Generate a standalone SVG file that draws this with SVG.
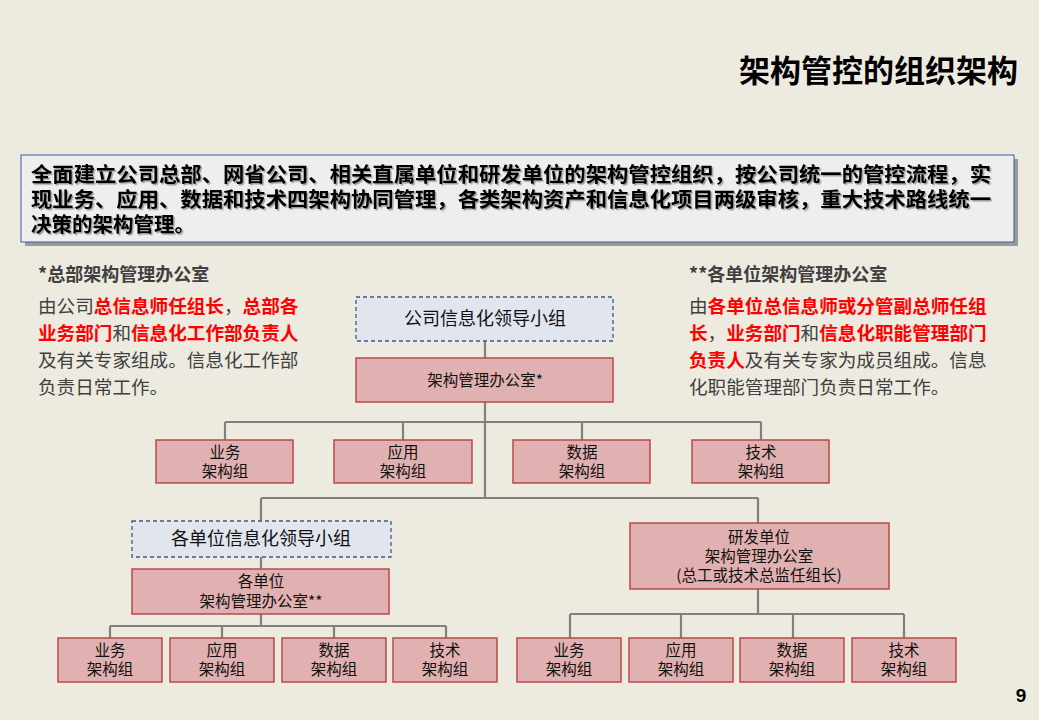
<svg xmlns="http://www.w3.org/2000/svg" width="1039" height="720" viewBox="0 0 1039 720">
<defs>
<style>
.cjk{font-family:"Noto Sans CJK SC","Liberation Sans",sans-serif}
.lead{fill:#E1E5EE;stroke:#3A5A8C;stroke-width:1.3;stroke-dasharray:4 3}
.off{fill:#E0B1B0;stroke:#B94A48;stroke-width:1.5}
.bt{font-family:"Noto Sans CJK SC","Liberation Sans",sans-serif;font-size:15.5px;fill:#111;text-anchor:middle}
.lt{font-family:"Noto Sans CJK SC","Liberation Sans",sans-serif;font-size:18px;fill:#111;text-anchor:middle}
.cn{stroke:#808080;stroke-width:2.2;fill:none}
.g{fill:#404040}
.r{fill:#FF0000;font-weight:bold}
.p{font-family:"Noto Sans CJK SC","Liberation Sans",sans-serif;font-size:18.6px}
</style>
<filter id="ts" x="-5%" y="-20%" width="110%" height="140%">
<feDropShadow dx="1.5" dy="1.5" stdDeviation="0.6" flood-color="#000" flood-opacity="0.35"/>
</filter>
</defs>
<rect x="0" y="0" width="1039" height="720" fill="#EDEAE0"/>

<g id="title">
<text x="1018" y="82" class="cjk" font-size="31" font-weight="bold" fill="#000" text-anchor="end">架构管控的组织架构</text>
</g>

<g id="summary">
<rect x="25" y="159" width="993" height="87" fill="#9A9A9A"/>
<rect x="21" y="155" width="993" height="87" fill="#EEEEEE" stroke="#3A5A9C" stroke-width="1"/>
<g class="cjk" font-size="20.5" font-weight="bold" fill="#000" filter="url(#ts)">
<text x="31" y="182" textLength="960" lengthAdjust="spacingAndGlyphs">全面建立公司总部、网省公司、相关直属单位和研发单位的架构管控组织，按公司统一的管控流程，实</text>
<text x="31" y="207" textLength="960" lengthAdjust="spacingAndGlyphs">现业务、应用、数据和技术四架构协同管理，各类架构资产和信息化项目两级审核，重大技术路线统一</text>
<text x="31" y="232">决策的架构管理。</text>
</g>
</g>

<g id="note-left">
<text x="38" y="281" class="cjk" font-size="18" font-weight="bold" fill="#404040">*总部架构管理办公室</text>
<text x="38" y="313" class="p"><tspan class="g">由公司</tspan><tspan class="r">总信息师任组长</tspan><tspan class="g">，</tspan><tspan class="r">总部各</tspan></text>
<text x="38" y="340" class="p"><tspan class="r">业务部门</tspan><tspan class="g">和</tspan><tspan class="r">信息化工作部负责人</tspan></text>
<text x="38" y="367" class="p g">及有关专家组成。信息化工作部</text>
<text x="38" y="394" class="p g">负责日常工作。</text>
</g>

<g id="note-right">
<text x="689" y="281" class="cjk" font-size="18" font-weight="bold" fill="#404040">**各单位架构管理办公室</text>
<text x="689" y="313" class="p"><tspan class="g">由</tspan><tspan class="r">各单位总信息师或分管副总师任组</tspan></text>
<text x="689" y="340" class="p"><tspan class="r">长</tspan><tspan class="g">，</tspan><tspan class="r">业务部门</tspan><tspan class="g">和</tspan><tspan class="r">信息化职能管理部门</tspan></text>
<text x="689" y="367" class="p"><tspan class="r">负责人</tspan><tspan class="g">及有关专家为成员组成。信息</tspan></text>
<text x="689" y="394" class="p g">化职能管理部门负责日常工作。</text>
</g>

<g id="connectors">
<path class="cn" d="M485 341V358 M485 402V498 M225 422H761 M225 422V440 M403 422V440 M582 422V440 M761 422V440 M261 498H758 M261 498V521 M758 498V523 M261 557V569 M261 614V626 M110 626H446 M110 626V638 M222 626V638 M334 626V638 M446 626V638 M758 589V614 M570 614H904 M570 614V638 M681 614V638 M793 614V638 M904 614V638"/>
</g>

<g id="n-group-lead">
<rect class="lead" x="356" y="297" width="257" height="44"/>
<text class="lt" x="485" y="325">公司信息化领导小组</text>
</g>
<g id="n-hq-office">
<rect class="off" x="356" y="358" width="257" height="44"/>
<text class="bt" x="485" y="386">架构管理办公室*</text>
</g>

<g id="n-hq-biz"><rect class="off" x="156" y="440" width="137" height="43"/><text class="bt" x="225" y="458">业务</text><text class="bt" x="225" y="477">架构组</text></g>
<g id="n-hq-app"><rect class="off" x="334" y="440" width="138" height="43"/><text class="bt" x="403" y="458">应用</text><text class="bt" x="403" y="477">架构组</text></g>
<g id="n-hq-data"><rect class="off" x="513" y="440" width="137" height="43"/><text class="bt" x="582" y="458">数据</text><text class="bt" x="582" y="477">架构组</text></g>
<g id="n-hq-tech"><rect class="off" x="692" y="440" width="137" height="43"/><text class="bt" x="761" y="458">技术</text><text class="bt" x="761" y="477">架构组</text></g>

<g id="n-unit-lead">
<rect class="lead" x="132" y="521" width="259" height="36"/>
<text class="lt" x="261" y="545">各单位信息化领导小组</text>
</g>
<g id="n-unit-office">
<rect class="off" x="132" y="569" width="257" height="45"/>
<text class="bt" x="261" y="587">各单位</text>
<text class="bt" x="261" y="607">架构管理办公室**</text>
</g>

<g id="n-u-biz"><rect class="off" x="58" y="638" width="104" height="44"/><text class="bt" x="110" y="656">业务</text><text class="bt" x="110" y="675">架构组</text></g>
<g id="n-u-app"><rect class="off" x="170" y="638" width="104" height="44"/><text class="bt" x="222" y="656">应用</text><text class="bt" x="222" y="675">架构组</text></g>
<g id="n-u-data"><rect class="off" x="282" y="638" width="104" height="44"/><text class="bt" x="334" y="656">数据</text><text class="bt" x="334" y="675">架构组</text></g>
<g id="n-u-tech"><rect class="off" x="393" y="638" width="104" height="44"/><text class="bt" x="445" y="656">技术</text><text class="bt" x="445" y="675">架构组</text></g>

<g id="n-rd-office">
<rect class="off" x="630" y="523" width="259" height="66"/>
<text class="bt" x="759" y="543">研发单位</text>
<text class="bt" x="759" y="562">架构管理办公室</text>
<text class="bt" x="759" y="581">(总工或技术总监任组长)</text>
</g>

<g id="n-r-biz"><rect class="off" x="517" y="638" width="104" height="44"/><text class="bt" x="569" y="656">业务</text><text class="bt" x="569" y="675">架构组</text></g>
<g id="n-r-app"><rect class="off" x="629" y="638" width="104" height="44"/><text class="bt" x="681" y="656">应用</text><text class="bt" x="681" y="675">架构组</text></g>
<g id="n-r-data"><rect class="off" x="740" y="638" width="104" height="44"/><text class="bt" x="792" y="656">数据</text><text class="bt" x="792" y="675">架构组</text></g>
<g id="n-r-tech"><rect class="off" x="852" y="638" width="104" height="44"/><text class="bt" x="904" y="656">技术</text><text class="bt" x="904" y="675">架构组</text></g>

<g id="page">
<text x="1021" y="702" font-family="Liberation Sans, sans-serif" font-size="19" font-weight="bold" fill="#000" text-anchor="middle">9</text>
</g>
</svg>
